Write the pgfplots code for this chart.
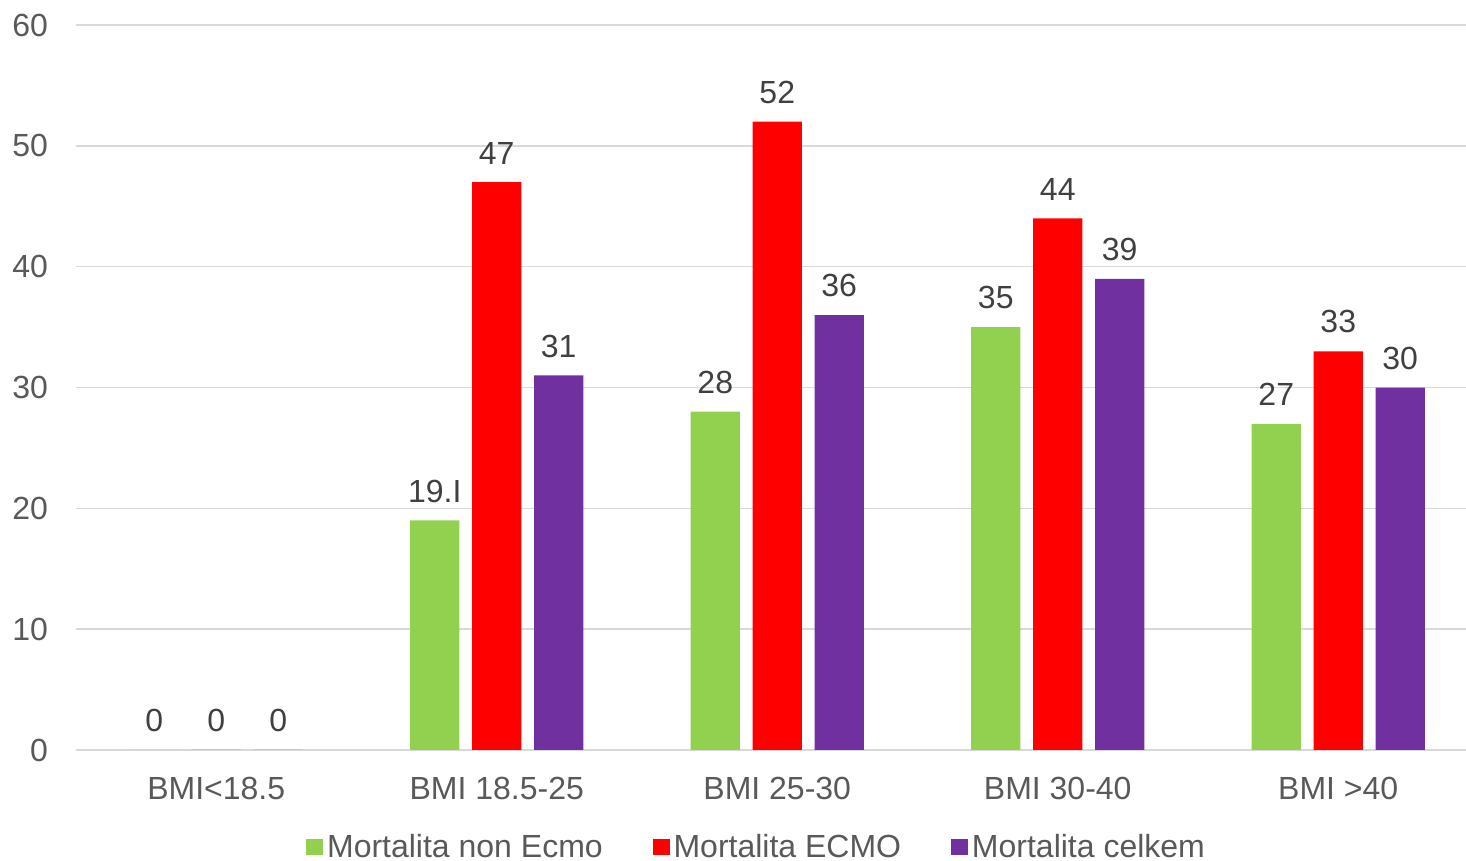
\documentclass[border=0pt]{standalone}
\usepackage{pgfplots}
\pgfplotsset{compat=1.18}
\usepackage{fontspec}
\setmainfont{Liberation Sans}
\definecolor{txt}{HTML}{595959}
\definecolor{lab}{HTML}{404040}
\definecolor{gridc}{HTML}{D9D9D9}
\definecolor{cgreen}{HTML}{92D050}
\definecolor{cred}{HTML}{FF0000}
\definecolor{cpurple}{HTML}{7030A0}
\begin{document}
\begin{tikzpicture}
\path[use as bounding box] (-38pt,-55.5pt) rectangle (695pt,375pt);
\begin{axis}[
  at={(0pt,0pt)}, anchor=south west,
  scale only axis, width=701.25pt, height=362.5pt,
  xmin=-0.5, xmax=4.5, ymin=0, ymax=60,
  ytick={0,10,...,60},
  xtick={0,1,2,3,4},
  xticklabels={BMI<18.5, BMI 18.5-25, BMI 25-30, BMI 30-40, BMI >40},
  axis line style={draw=none},
  x axis line style={draw=none},
  major tick length=0pt,
  ymajorgrids, grid style={gridc, line width=0.75pt},
  tick label style={font=\fontsize{16}{18}\selectfont, text=txt},
  /pgf/number format/assume math mode=true,
  yticklabel style={xshift=-10.5pt},
  xticklabel style={yshift=-10pt},
  ybar, bar width=0.175,
  point meta=explicit symbolic,
  nodes near coords,
  nodes near coords style={font=\fontsize{16}{18}\selectfont, text=lab, yshift=5.5pt},
  legend style={at={(0.486,-0.1338)}, anchor=center, draw=none, fill=none,
    legend columns=3, font=\fontsize{16}{18}\selectfont, text=txt,
    /tikz/every even column/.append style={column sep=23pt}},
  legend cell align=left,
  legend image code/.code={\fill[#1] (0pt,-4.2pt) rectangle (8.4pt,4.2pt);},
  clip=false,
]
\draw[gridc, line width=0.75pt] (axis cs:-0.5,0) -- (axis cs:4.5,0);
\addplot[fill=cgreen, draw=none, bar shift=-0.221] coordinates {(0,0)[0] (1,19)[19.I] (2,28)[28] (3,35)[35] (4,27)[27]};
\addplot[fill=cred, draw=none, bar shift=0] coordinates {(0,0)[0] (1,47)[47] (2,52)[52] (3,44)[44] (4,33)[33]};
\addplot[fill=cpurple, draw=none, bar shift=0.221] coordinates {(0,0)[0] (1,31)[31] (2,36)[36] (3,39)[39] (4,30)[30]};
\legend{Mortalita non Ecmo, Mortalita ECMO, Mortalita celkem}
\end{axis}
\end{tikzpicture}
\end{document}
